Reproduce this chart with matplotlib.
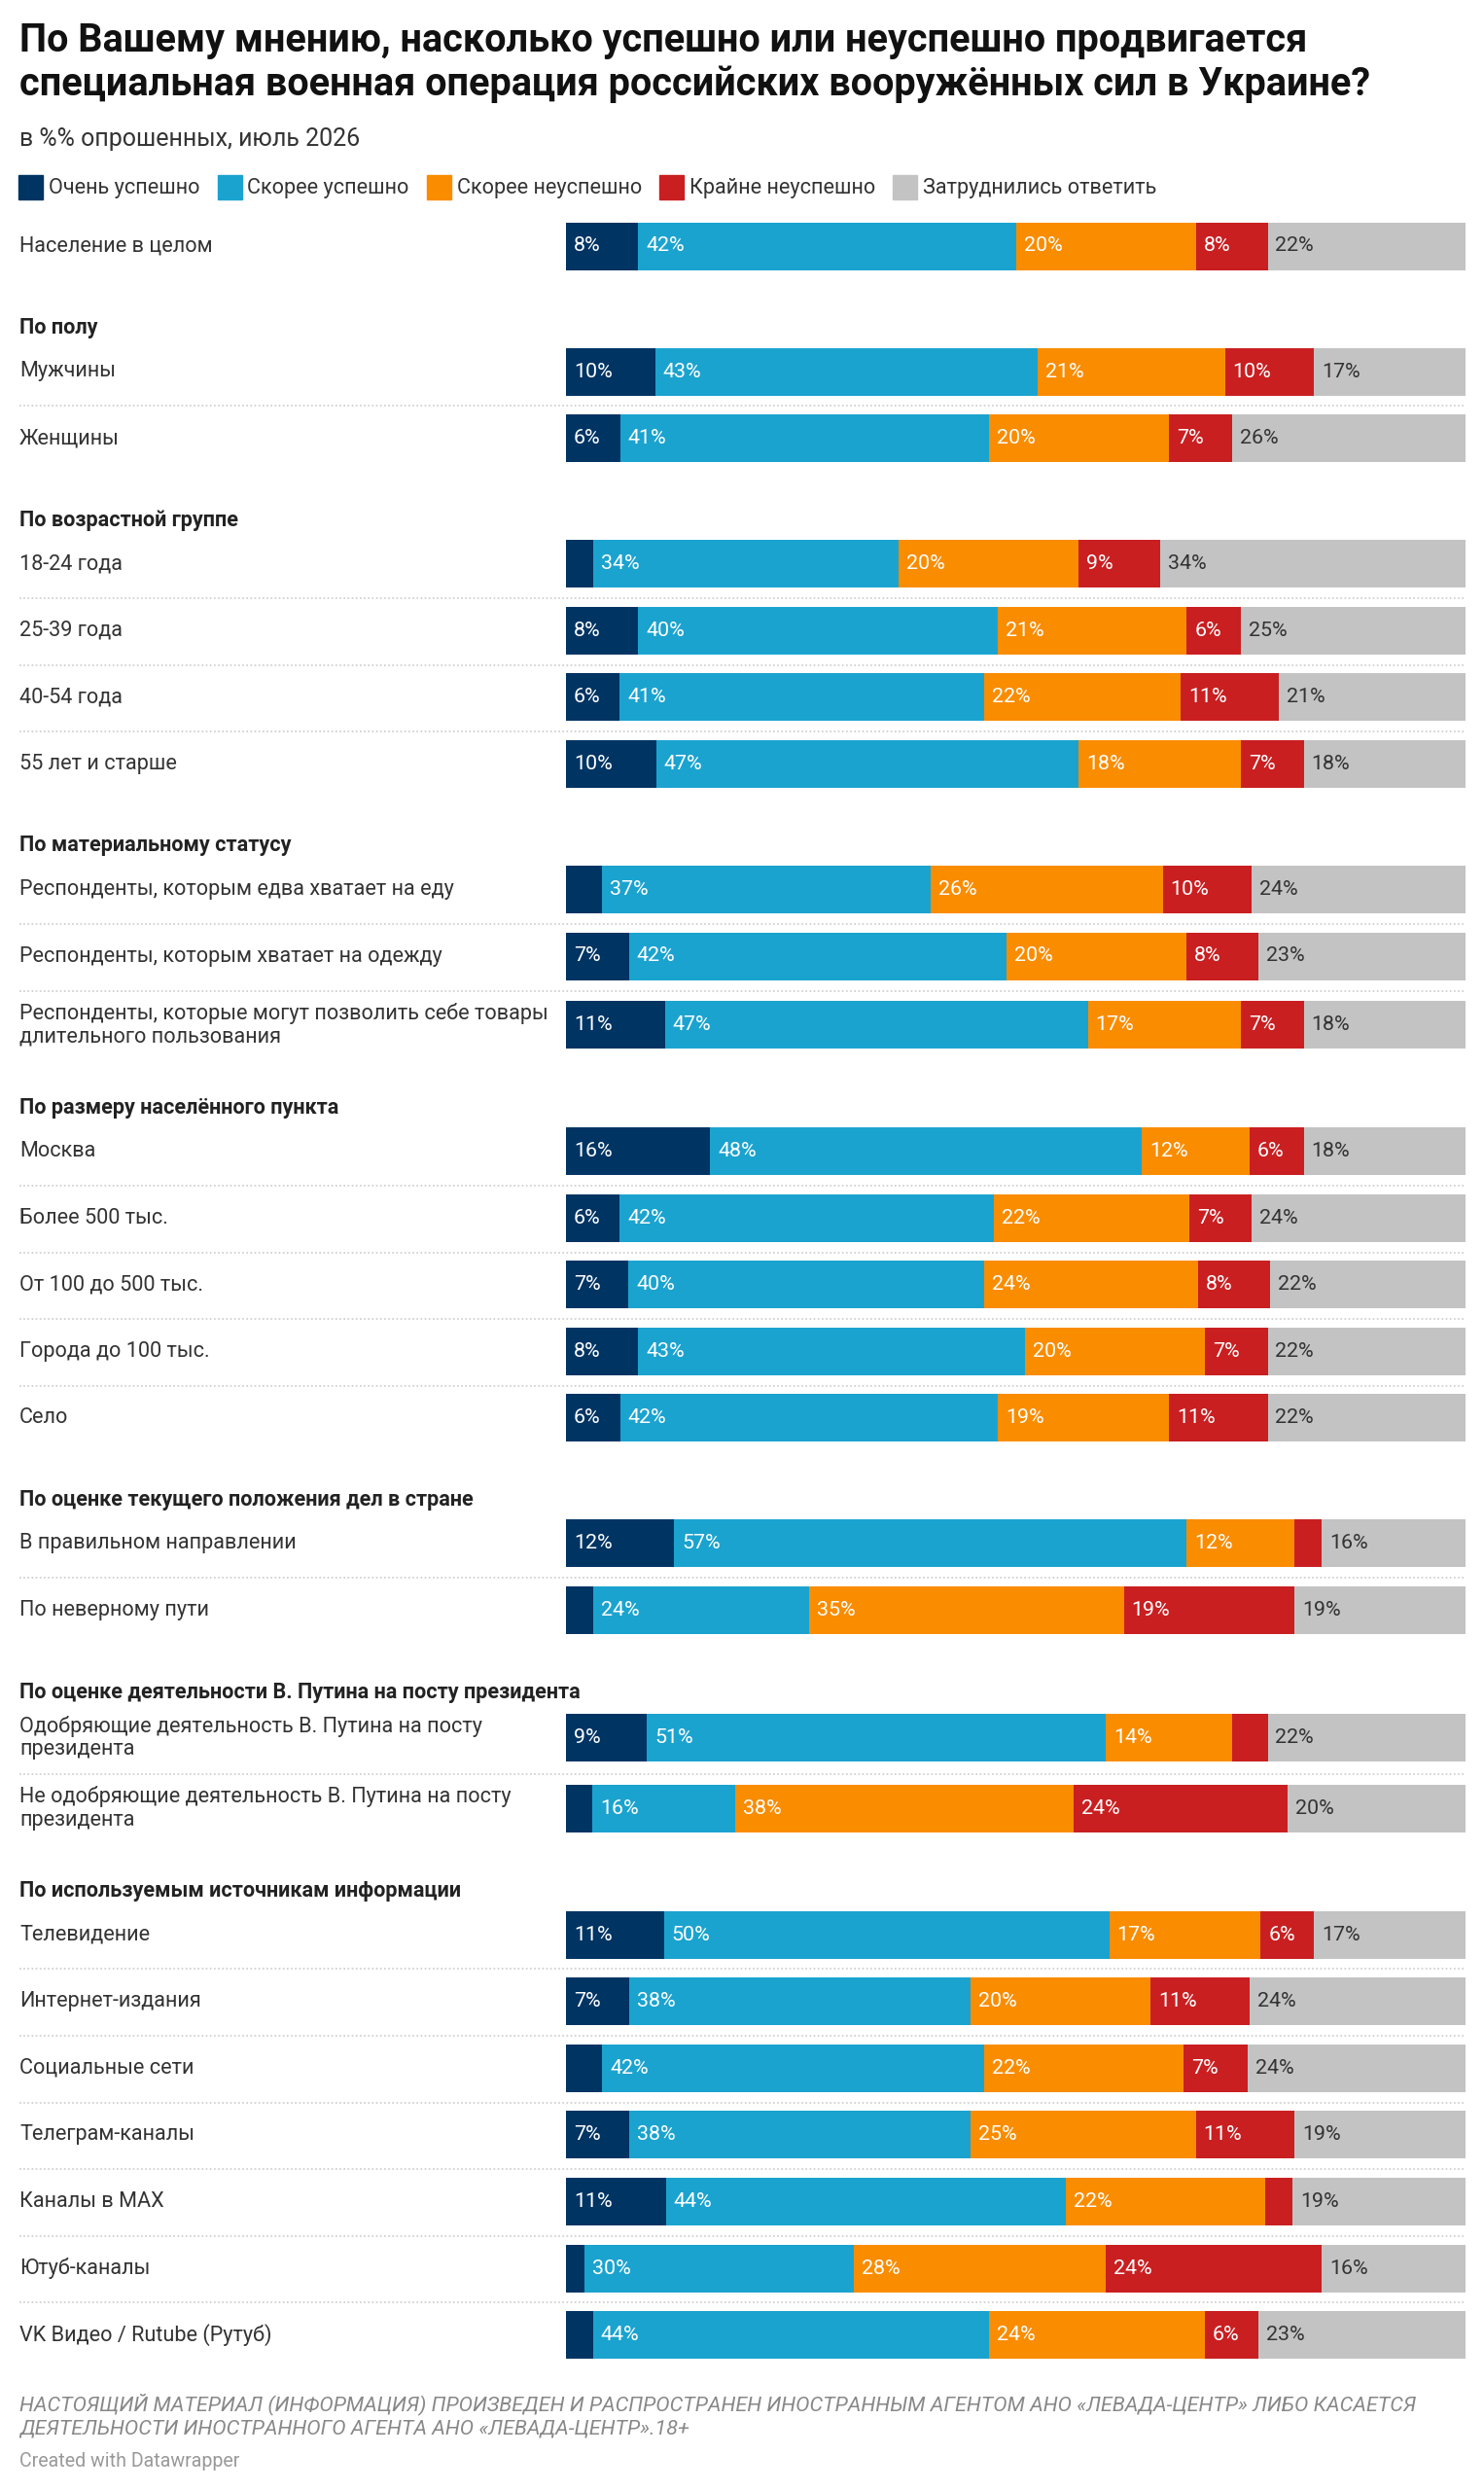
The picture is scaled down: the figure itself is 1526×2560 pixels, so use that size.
import matplotlib
matplotlib.use("Agg")
import matplotlib.pyplot as plt
from matplotlib.patches import Rectangle
from matplotlib.transforms import offset_copy

plt.rcParams['font.family'] = ['Roboto', 'DejaVu Sans']

# Data (in % of respondents, July 2026)
# -------------------------------------------------------------
series_names = ["Очень успешно", "Скорее успешно", "Скорее неуспешно",
                "Крайне неуспешно", "Затруднились ответить"]
colors = ["#003463", "#1ba3cf", "#fa8c00", "#c91f21", "#c3c3c3"]

group_headers = [None, "По полу", "По возрастной группе", "По материальному статусу",
                 "По размеру населённого пункта",
                 "По оценке текущего положения дел в стране",
                 "По оценке деятельности В. Путина на посту президента",
                 "По используемым источникам информации"]

row_labels = [
    "Население в целом",
    "Мужчины", "Женщины",
    "18-24 года", "25-39 года", "40-54 года", "55 лет и старше",
    "Респонденты, которым едва хватает на еду",
    "Респонденты, которым хватает на одежду",
    "Респонденты, которые могут позволить себе товары\nдлительного пользования",
    "Москва", "Более 500 тыс.", "От 100 до 500 тыс.", "Города до 100 тыс.", "Село",
    "В правильном направлении", "По неверному пути",
    "Одобряющие деятельность В. Путина на посту\nпрезидента",
    "Не одобряющие деятельность В. Путина на посту\nпрезидента",
    "Телевидение", "Интернет-издания", "Социальные сети", "Телеграм-каналы",
    "Каналы в MAX", "Ютуб-каналы", "VK Видео / Rutube (Рутуб)",
]
row_group = [0, 1, 1, 2, 2, 2, 2, 3, 3, 3, 4, 4, 4, 4, 4, 5, 5, 6, 6, 7, 7, 7, 7, 7, 7, 7]

very_success   = [8, 10, 6, 3, 8, 6, 10, 4, 7, 11, 16, 6, 7, 8, 6, 12, 3, 9, 3, 11, 7, 4, 7, 11, 2, 3]
rather_success = [42, 43, 41, 34, 40, 41, 47, 37, 42, 47, 48, 42, 40, 43, 42, 57, 24, 51, 16, 50, 38, 42, 38, 44, 30, 44]
rather_fail    = [20, 21, 20, 20, 21, 22, 18, 26, 20, 17, 12, 22, 24, 20, 19, 12, 35, 14, 38, 17, 20, 22, 25, 22, 28, 24]
very_fail      = [8, 10, 7, 9, 6, 11, 7, 10, 8, 7, 6, 7, 8, 7, 11, 3, 19, 4, 24, 6, 11, 7, 11, 3, 24, 6]
hard_to_say    = [22, 17, 26, 34, 25, 21, 18, 24, 23, 18, 18, 24, 22, 22, 22, 16, 19, 22, 20, 17, 24, 24, 19, 19, 16, 23]

series = [very_success, rather_success, rather_fail, very_fail, hard_to_say]

# Layout (pixels, figure is 1526 x 2560)
# -------------------------------------------------------------
W, H = 1526, 2560
LEFT = 20
BAR_X0, BAR_X1 = 582, 1507
BAR_H = 49
PITCH = 68.6
GROUP_GAP = 84
HEADER_TO_ROW = 45
PX = 0.72  # px -> pt at dpi 100

fig = plt.figure(figsize=(W / 100, H / 100), dpi=100)
ax_t = fig.add_axes([0, 0, 1, 1])
ax_t.set_xlim(0, W)
ax_t.set_ylim(H, 0)
ax_t.axis("off")

ax = fig.add_axes([BAR_X0 / W, 0, (BAR_X1 - BAR_X0) / W, 1])
ax.set_xlim(0, 100)
ax.set_ylim(H, 0)
ax.axis("off")

# Title, subtitle
ax_t.text(LEFT, 42, "По Вашему мнению, насколько успешно или неуспешно продвигается",
          fontsize=39.6 * PX, fontweight="bold", color="#111111", va="center")
ax_t.text(LEFT, 87, "специальная военная операция российских вооружённых сил в Украине?",
          fontsize=39.6 * PX, fontweight="bold", color="#111111", va="center")
ax_t.text(LEFT, 143, "в %% опрошенных, июль 2026", fontsize=25 * PX, color="#333333", va="center")

# Legend
fig.canvas.draw()
renderer = fig.canvas.get_renderer()
lx = LEFT - 1
for name, c in zip(series_names, colors):
    ax_t.add_patch(Rectangle((lx, 180), 25, 25, color=c))
    t = ax_t.text(lx + 31, 193, name, fontsize=21.6 * PX, color="#333333", va="center")
    bb = t.get_window_extent(renderer)
    lx = bb.x1 + 18

# Row positions
row_y, header_y = [], []
y = 253
for i, lab in enumerate(row_labels):
    two = "\n" in lab
    if i > 0:
        prev_two = "\n" in row_labels[i - 1]
        if row_group[i] != row_group[i - 1]:
            hy = y + GROUP_GAP + (1 if prev_two else 0)
            header_y.append((row_group[i], hy))
            y = hy + HEADER_TO_ROW + (2 if two else 0)
        else:
            y = y + PITCH + (2 if prev_two else 0) + (2 if two else 0)
    row_y.append(y)

for g, hy in header_y:
    ax_t.text(LEFT, hy, group_headers[g], fontsize=21.6 * PX, fontweight="bold",
              color="#222222", va="center")

val_tr = offset_copy(ax.transData, fig=fig, x=8, y=0, units="dots")

for i, lab in enumerate(row_labels):
    yc = row_y[i]
    ax_t.text(LEFT, yc, lab, fontsize=21.6 * PX, color="#333333", va="center",
              linespacing=1.15)
    total = sum(s[i] for s in series)  # bars are stacked to 100%
    left = 0
    for k, s in enumerate(series):
        v = s[i] * 100 / total
        ax.barh(yc, v, left=left, height=BAR_H, color=colors[k], linewidth=0)
        if s[i] >= 5:
            ax.text(left, yc, f"{s[i]}%", transform=val_tr, fontsize=21.4 * PX,
                    color="white" if k < 4 else "#333333", va="center")
        left += v
    # dotted separator to next row in the same group
    if i + 1 < len(row_labels) and row_group[i + 1] == row_group[i]:
        sy = (yc + row_y[i + 1]) / 2 + 1
        ax_t.plot([LEFT, BAR_X1], [sy, sy], color="#cccccc", lw=1.2,
                  linestyle=(0, (1, 1.5)))

# Footer
ax_t.text(LEFT, 2472, "НАСТОЯЩИЙ МАТЕРИАЛ (ИНФОРМАЦИЯ) ПРОИЗВЕДЕН И РАСПРОСТРАНЕН ИНОСТРАННЫМ АГЕНТОМ АНО «ЛЕВАДА-ЦЕНТР» ЛИБО КАСАЕТСЯ",
          fontsize=21.5 * PX, fontstyle="italic", color="#888888", va="center")
ax_t.text(LEFT, 2497, "ДЕЯТЕЛЬНОСТИ ИНОСТРАННОГО АГЕНТА АНО «ЛЕВАДА-ЦЕНТР».18+",
          fontsize=21.5 * PX, fontstyle="italic", color="#888888", va="center")
ax_t.text(LEFT, 2531, "Created with Datawrapper", fontsize=19.7 * PX, color="#999999", va="center")

fig.savefig("out.png", dpi=100, facecolor="white")
